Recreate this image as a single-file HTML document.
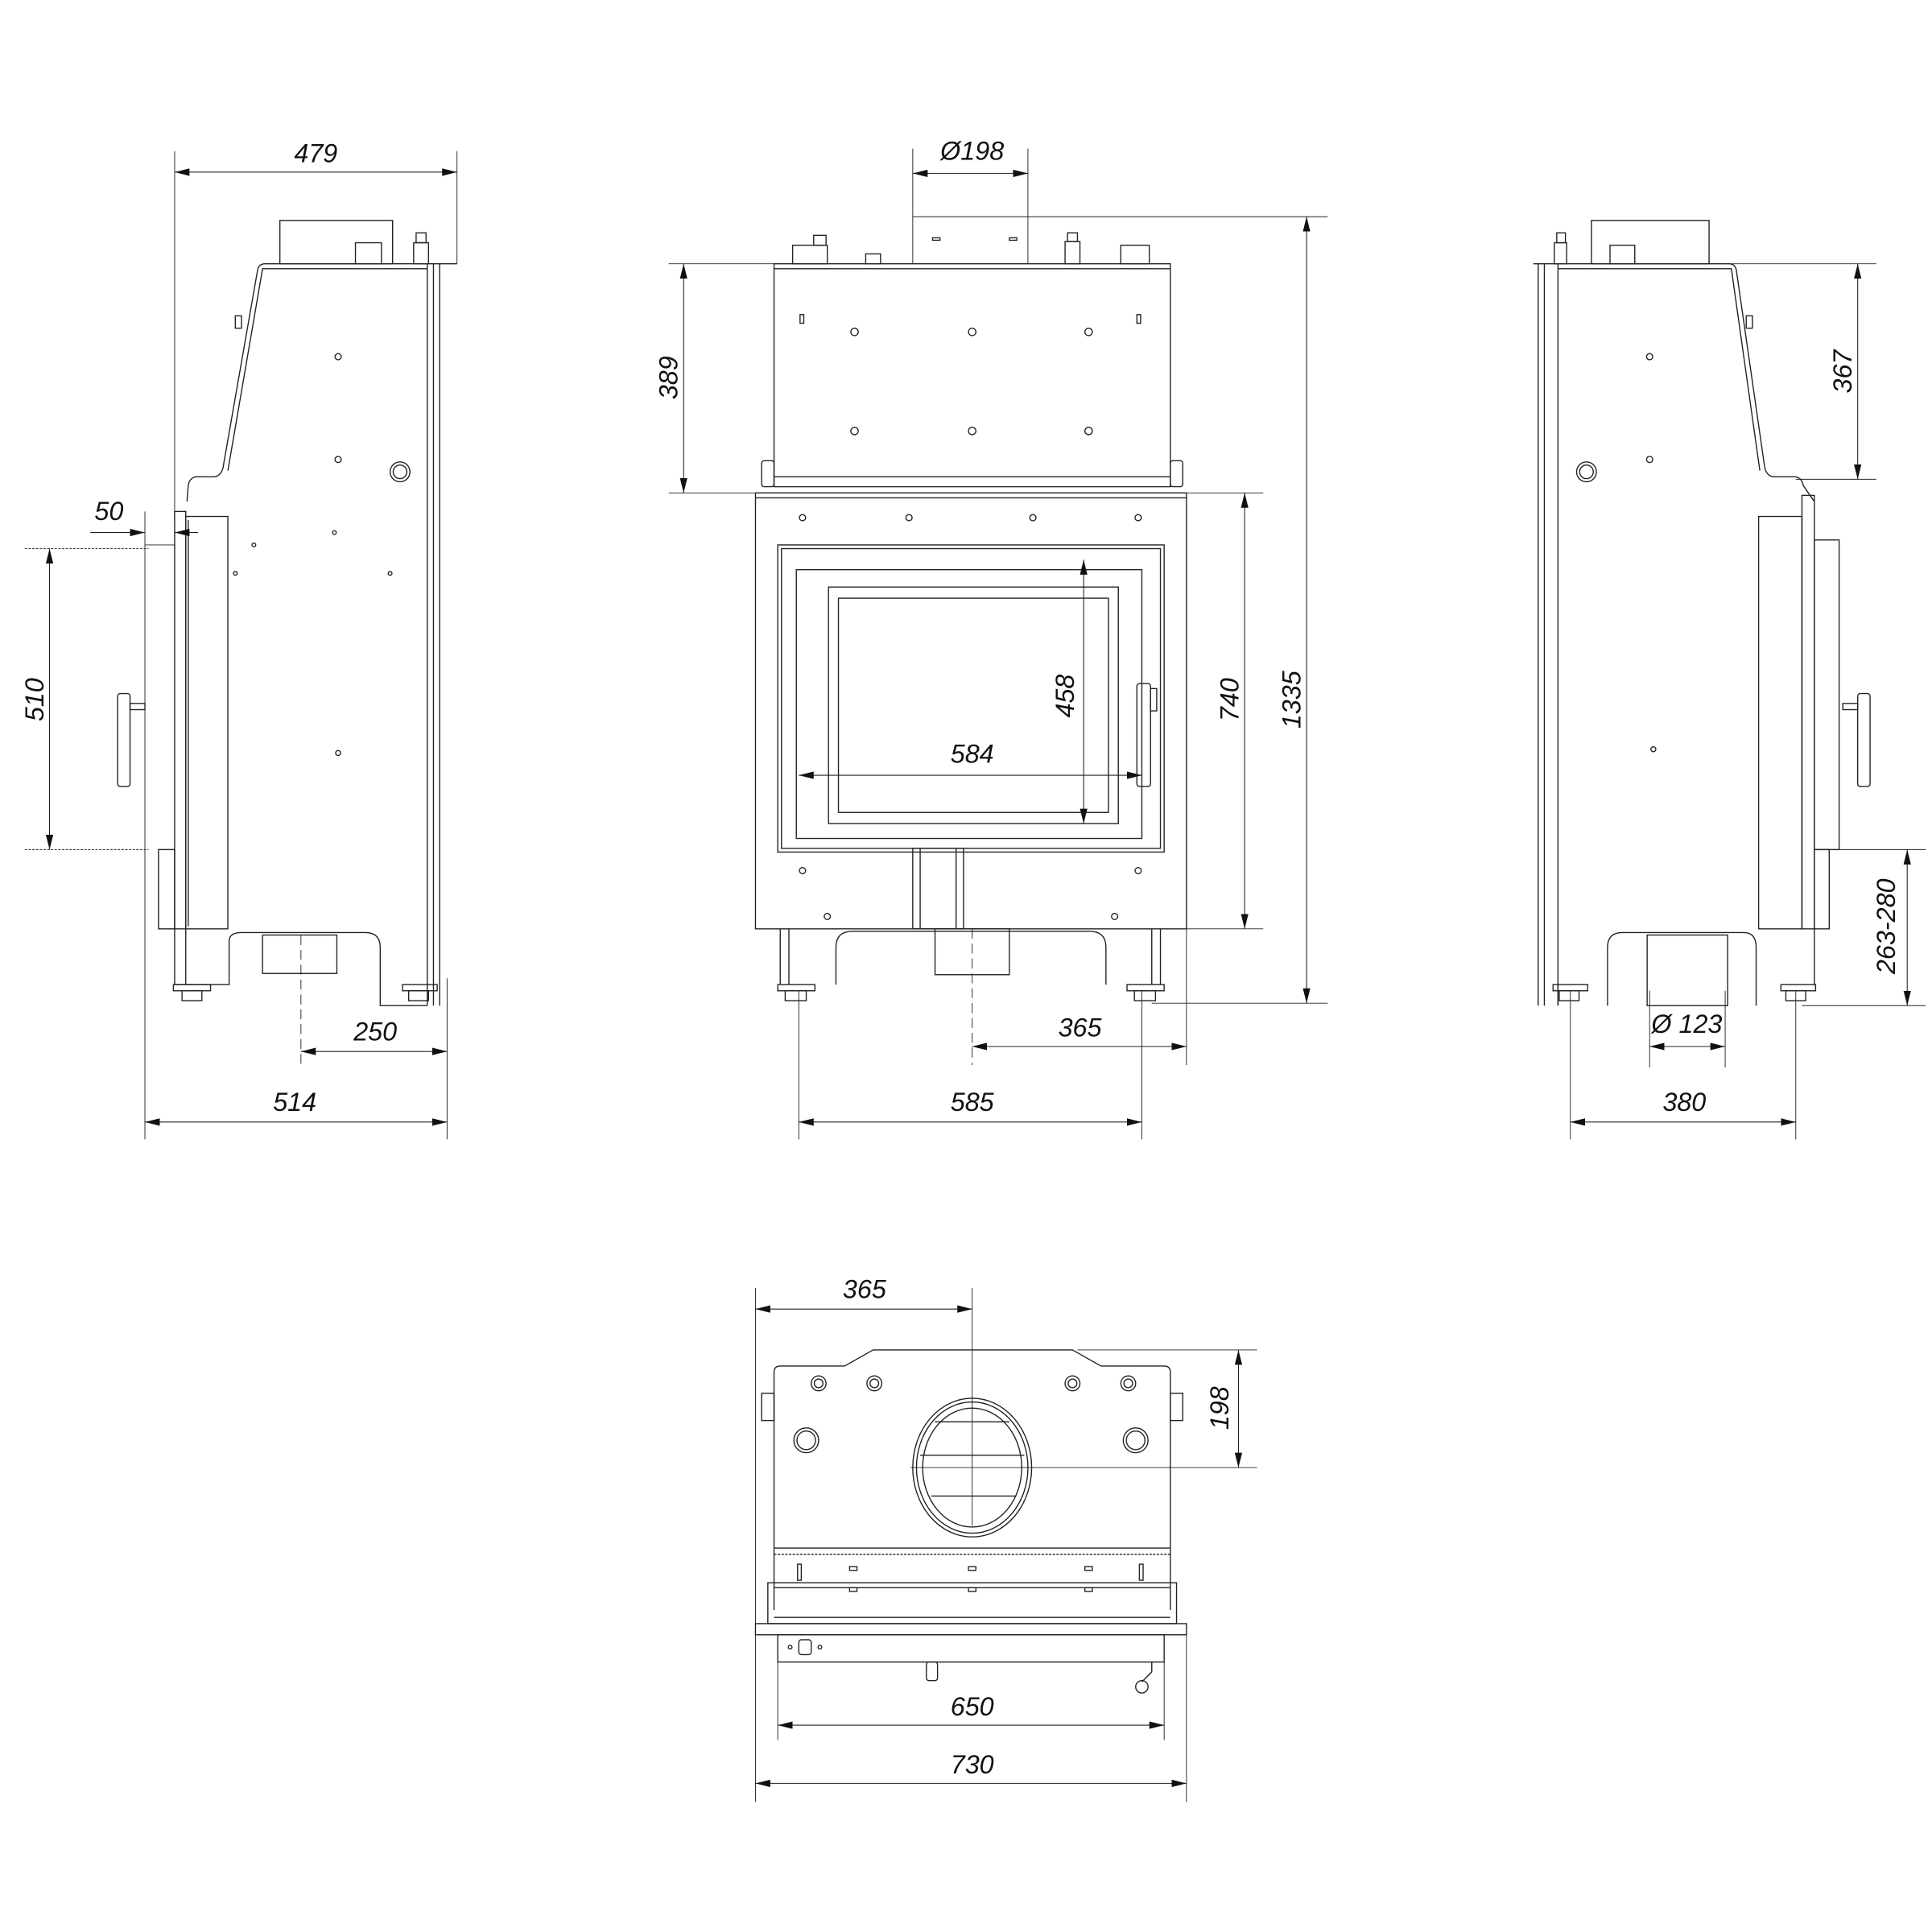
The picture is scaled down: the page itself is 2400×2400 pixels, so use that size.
<!DOCTYPE html>
<html><head><meta charset="utf-8"><style>
html,body{margin:0;padding:0;background:#fff}
svg{display:block}
text{font-family:"Liberation Sans",sans-serif;font-style:italic;font-size:21px;fill:#111}
</style></head><body>
<svg width="2400" height="2400" viewBox="0 0 1560 1560" xmlns="http://www.w3.org/2000/svg">
<defs>
<marker id="a" viewBox="0 0 12 6" refX="12" refY="3" markerWidth="12" markerHeight="6" orient="auto-start-reverse" markerUnits="userSpaceOnUse"><path d="M0,0 L12,3 L0,6z" fill="#111"/></marker>
</defs>
<g fill="none" stroke="#222" stroke-width="0.9">
<!-- ============ LEFT SIDE VIEW ============ -->
<line x1="141" y1="122" x2="141" y2="420" stroke-width="0.6"/>
<line x1="369" y1="122" x2="369" y2="213" stroke-width="0.6"/>
<line x1="141" y1="139" x2="369" y2="139" marker-start="url(#a)" marker-end="url(#a)" stroke-width="0.7"/>
<rect x="226" y="178" width="91" height="35"/>
<rect x="287" y="196" width="21" height="17"/>
<rect x="334" y="196" width="12" height="17"/><rect x="336" y="188" width="8" height="8"/>
<path d="M369 213 L214 213 Q209 213 208 218 L180 378 Q178 385 172 385 L158 385 Q153 386 152 392 L151 405"/>
<path d="M345 217 L212 217 L184 380"/>
<line x1="345" y1="213" x2="345" y2="812"/><line x1="350" y1="213" x2="350" y2="812"/><line x1="355" y1="213" x2="355" y2="812"/>
<rect x="141" y="413" width="9" height="337"/>
<rect x="150" y="417" width="34" height="333"/><line x1="152" y1="420" x2="152" y2="748"/>
<rect x="128" y="686" width="13" height="64"/>
<line x1="117" y1="440" x2="141" y2="440" stroke-width="0.6"/>
<circle cx="273" cy="288" r="2.5"/><circle cx="273" cy="371" r="2.5"/><circle cx="273" cy="608" r="2"/>
<circle cx="323" cy="381" r="8"/><circle cx="323" cy="381" r="5.5"/>
<circle cx="190" cy="463" r="1.5"/><circle cx="315" cy="463" r="1.5"/><circle cx="270" cy="430" r="1.5"/><circle cx="205" cy="440" r="1.5"/>
<rect x="190" y="255" width="5" height="10"/>
<path d="M141 750 L141 795 L185 795 L185 760 Q185 753 195 753 L295 753 Q307 753 307 765 L307 812 L345 812"/>
<path d="M150 750 L150 795"/><rect x="212" y="755" width="60" height="31"/>
<line x1="243" y1="755" x2="243" y2="862" stroke-dasharray="8 4" stroke-width="0.6"/>
<rect x="140" y="795" width="30" height="5"/><rect x="147" y="800" width="16" height="8"/>
<rect x="325" y="795" width="28" height="5"/><rect x="330" y="800" width="16" height="8"/>
<rect x="95" y="560" width="10" height="75" rx="2"/><rect x="105" y="568" width="12" height="5"/>
<line x1="117" y1="413" x2="117" y2="920" stroke-width="0.6"/>
<line x1="361" y1="790" x2="361" y2="920" stroke-width="0.6"/>
<line x1="20" y1="443" x2="120" y2="443" stroke-width="0.6" stroke-dasharray="2 1"/>
<line x1="20" y1="686" x2="120" y2="686" stroke-width="0.6" stroke-dasharray="2 1"/>
<line x1="40" y1="443" x2="40" y2="686" marker-start="url(#a)" marker-end="url(#a)" stroke-width="0.7"/>
<line x1="73" y1="430" x2="117" y2="430" marker-end="url(#a)" stroke-width="0.7"/>
<line x1="160" y1="430" x2="141" y2="430" marker-end="url(#a)" stroke-width="0.7"/>
<line x1="243" y1="849" x2="361" y2="849" marker-start="url(#a)" marker-end="url(#a)" stroke-width="0.7"/>
<line x1="117" y1="906" x2="361" y2="906" marker-start="url(#a)" marker-end="url(#a)" stroke-width="0.7"/>

<!-- ============ FRONT VIEW ============ -->
<line x1="737" y1="120" x2="737" y2="213" stroke-width="0.6"/>
<line x1="830" y1="120" x2="830" y2="213" stroke-width="0.6"/>
<line x1="737" y1="140" x2="830" y2="140" marker-start="url(#a)" marker-end="url(#a)" stroke-width="0.7"/>
<line x1="737" y1="175" x2="1072" y2="175" stroke-width="0.6"/>
<rect x="753" y="192" width="6" height="2"/><rect x="815" y="192" width="6" height="2"/>
<rect x="640" y="198" width="28" height="15"/><rect x="657" y="190" width="10" height="8"/>
<rect x="699" y="205" width="12" height="8"/>
<rect x="860" y="195" width="12" height="18"/><rect x="862" y="188" width="8" height="7"/>
<rect x="905" y="198" width="23" height="15"/>
<rect x="625" y="213" width="320" height="180"/>
<line x1="625" y1="217" x2="945" y2="217"/>
<line x1="625" y1="385" x2="945" y2="385"/>
<rect x="615" y="372" width="10" height="21" rx="2"/><rect x="945" y="372" width="10" height="21" rx="2"/>
<rect x="646" y="254" width="3" height="7"/><rect x="918" y="254" width="3" height="7"/>
<circle cx="690" cy="268" r="3"/><circle cx="785" cy="268" r="3"/><circle cx="879" cy="268" r="3"/>
<circle cx="690" cy="348" r="3"/><circle cx="785" cy="348" r="3"/><circle cx="879" cy="348" r="3"/>
<rect x="610" y="398" width="348" height="352"/>
<line x1="610" y1="402" x2="958" y2="402"/>
<circle cx="648" cy="418" r="2.5"/><circle cx="734" cy="418" r="2.5"/><circle cx="834" cy="418" r="2.5"/><circle cx="919" cy="418" r="2.5"/>
<circle cx="648" cy="703" r="2.5"/><circle cx="919" cy="703" r="2.5"/><circle cx="668" cy="740" r="2.5"/><circle cx="900" cy="740" r="2.5"/>
<rect x="628" y="440" width="312" height="248"/>
<rect x="631" y="443" width="306" height="242"/>
<rect x="643" y="460" width="279" height="217"/>
<rect x="669" y="474" width="234" height="191"/>
<rect x="677" y="483" width="218" height="173"/>
<rect x="918" y="552" width="11" height="83" rx="2"/><rect x="929" y="556" width="5" height="18"/>
<rect x="737" y="685" width="41" height="65"/><line x1="743" y1="685" x2="743" y2="750"/><line x1="772" y1="685" x2="772" y2="750"/>
<path d="M630 750 L630 795 M637 750 L637 795 M675 795 L675 765 Q675 752 688 752 L880 752 Q893 752 893 765 L893 795 M930 750 L930 795 M937 750 L937 795"/>
<rect x="755" y="750" width="60" height="37"/>
<line x1="785" y1="750" x2="785" y2="860" stroke-dasharray="8 4" stroke-width="0.6"/>
<rect x="628" y="795" width="30" height="5"/><rect x="634" y="800" width="17" height="8"/>
<rect x="910" y="795" width="30" height="5"/><rect x="916" y="800" width="17" height="8"/>
<line x1="540" y1="213" x2="625" y2="213" stroke-width="0.6"/>
<line x1="540" y1="398" x2="610" y2="398" stroke-width="0.6"/>
<line x1="958" y1="398" x2="1020" y2="398" stroke-width="0.6"/>
<line x1="958" y1="750" x2="1020" y2="750" stroke-width="0.6"/>
<line x1="930" y1="810" x2="1072" y2="810" stroke-width="0.6"/>
<line x1="958" y1="750" x2="958" y2="860" stroke-width="0.6"/>
<line x1="645" y1="800" x2="645" y2="920" stroke-width="0.6"/>
<line x1="922" y1="800" x2="922" y2="920" stroke-width="0.6"/>
<line x1="552" y1="213" x2="552" y2="398" marker-start="url(#a)" marker-end="url(#a)" stroke-width="0.7"/>
<line x1="1005" y1="398" x2="1005" y2="750" marker-start="url(#a)" marker-end="url(#a)" stroke-width="0.7"/>
<line x1="1055" y1="175" x2="1055" y2="810" marker-start="url(#a)" marker-end="url(#a)" stroke-width="0.7"/>
<line x1="875" y1="452" x2="875" y2="665" marker-start="url(#a)" marker-end="url(#a)" stroke-width="0.7"/>
<line x1="645" y1="626" x2="922" y2="626" marker-start="url(#a)" marker-end="url(#a)" stroke-width="0.7"/>
<line x1="785" y1="845" x2="958" y2="845" marker-start="url(#a)" marker-end="url(#a)" stroke-width="0.7"/>
<line x1="645" y1="906" x2="922" y2="906" marker-start="url(#a)" marker-end="url(#a)" stroke-width="0.7"/>

<!-- ============ RIGHT SIDE VIEW ============ -->
<rect x="1285" y="178" width="95" height="35"/>
<rect x="1300" y="198" width="20" height="15"/>
<rect x="1255" y="196" width="10" height="17"/><rect x="1257" y="188" width="7" height="8"/>
<path d="M1238 213 L1396 213 Q1401 213 1402 218 L1425 378 Q1427 385 1433 385 L1450 385 Q1455 386 1456 392 L1465 405"/>
<path d="M1258 217 L1398 217 L1421 380"/>
<line x1="1242" y1="213" x2="1242" y2="812"/><line x1="1247" y1="213" x2="1247" y2="812"/><line x1="1258" y1="213" x2="1258" y2="812"/>
<rect x="1420" y="417" width="35" height="333"/><rect x="1455" y="400" width="10" height="350"/>
<rect x="1465" y="436" width="20" height="250"/>
<rect x="1465" y="686" width="12" height="64"/>
<circle cx="1332" cy="288" r="2.5"/><circle cx="1332" cy="371" r="2.5"/><circle cx="1335" cy="605" r="2"/>
<circle cx="1281" cy="381" r="8"/><circle cx="1281" cy="381" r="5.5"/>
<rect x="1410" y="255" width="5" height="10"/>
<path d="M1258 812 L1258 795 M1298 812 L1298 765 Q1298 753 1310 753 L1408 753 Q1418 753 1418 765 L1418 812 M1465 750 L1465 795"/>
<rect x="1330" y="755" width="65" height="57"/>
<rect x="1254" y="795" width="28" height="5"/><rect x="1259" y="800" width="16" height="8"/>
<rect x="1438" y="795" width="28" height="5"/><rect x="1442" y="800" width="16" height="8"/>
<rect x="1500" y="560" width="10" height="75" rx="2"/><rect x="1488" y="568" width="12" height="5"/>
<line x1="1387" y1="213" x2="1515" y2="213" stroke-width="0.6"/>
<line x1="1450" y1="387" x2="1515" y2="387" stroke-width="0.6"/>
<line x1="1480" y1="686" x2="1555" y2="686" stroke-width="0.6"/>
<line x1="1455" y1="812" x2="1555" y2="812" stroke-width="0.6"/>
<line x1="1500" y1="213" x2="1500" y2="387" marker-start="url(#a)" marker-end="url(#a)" stroke-width="0.7"/>
<line x1="1540" y1="686" x2="1540" y2="812" marker-start="url(#a)" marker-end="url(#a)" stroke-width="0.7"/>
<line x1="1332" y1="800" x2="1332" y2="862" stroke-width="0.6"/>
<line x1="1393" y1="800" x2="1393" y2="862" stroke-width="0.6"/>
<line x1="1332" y1="845" x2="1393" y2="845" marker-start="url(#a)" marker-end="url(#a)" stroke-width="0.7"/>
<line x1="1268" y1="800" x2="1268" y2="920" stroke-width="0.6"/>
<line x1="1450" y1="800" x2="1450" y2="920" stroke-width="0.6"/>
<line x1="1268" y1="906" x2="1450" y2="906" marker-start="url(#a)" marker-end="url(#a)" stroke-width="0.7"/>

<!-- ============ BOTTOM (TOP) VIEW ============ -->
<line x1="610" y1="1040" x2="610" y2="1455" stroke-width="0.6"/>
<line x1="785" y1="1040" x2="785" y2="1232" stroke-width="0.6"/>
<line x1="610" y1="1057" x2="785" y2="1057" marker-start="url(#a)" marker-end="url(#a)" stroke-width="0.7"/>
<line x1="870" y1="1090" x2="1015" y2="1090" stroke-width="0.6"/>
<line x1="735" y1="1185" x2="1015" y2="1185" stroke-width="0.6"/>
<line x1="1000" y1="1090" x2="1000" y2="1185" marker-start="url(#a)" marker-end="url(#a)" stroke-width="0.7"/>
<path d="M625 1300 L625 1108 Q625 1103 630 1103 L682 1103 L705 1090 L866 1090 L889 1103 L940 1103 Q945 1103 945 1108 L945 1300"/>
<rect x="615" y="1125" width="10" height="22"/><rect x="945" y="1125" width="10" height="22"/>
<circle cx="661" cy="1117" r="6"/><circle cx="661" cy="1117" r="3.5"/>
<circle cx="706" cy="1117" r="6"/><circle cx="706" cy="1117" r="3.5"/>
<circle cx="866" cy="1117" r="6"/><circle cx="866" cy="1117" r="3.5"/>
<circle cx="911" cy="1117" r="6"/><circle cx="911" cy="1117" r="3.5"/>
<circle cx="651" cy="1163" r="10"/><circle cx="651" cy="1163" r="7.5"/>
<circle cx="917" cy="1163" r="10"/><circle cx="917" cy="1163" r="7.5"/>
<ellipse cx="785" cy="1185" rx="48" ry="56"/><ellipse cx="785" cy="1185" rx="45" ry="53"/><ellipse cx="785" cy="1185" rx="40" ry="48"/>
<line x1="755" y1="1148" x2="815" y2="1148"/><line x1="743" y1="1175" x2="827" y2="1175"/><line x1="752" y1="1208" x2="820" y2="1208"/>
<line x1="625" y1="1250" x2="945" y2="1250"/><line x1="625" y1="1255" x2="945" y2="1255" stroke-dasharray="2 1"/>
<rect x="644" y="1263" width="3" height="13"/><rect x="920" y="1263" width="3" height="13"/>
<rect x="686" y="1265" width="6" height="3"/><rect x="782" y="1265" width="6" height="3"/><rect x="876" y="1265" width="6" height="3"/>
<rect x="686" y="1282" width="6" height="3"/><rect x="782" y="1282" width="6" height="3"/><rect x="876" y="1282" width="6" height="3"/>
<rect x="620" y="1278" width="330" height="33"/><line x1="625" y1="1282" x2="945" y2="1282"/><line x1="625" y1="1306" x2="945" y2="1306"/>
<rect x="610" y="1311" width="348" height="9"/>
<rect x="628" y="1320" width="312" height="22"/>
<rect x="645" y="1324" width="10" height="12" rx="2"/>
<circle cx="638" cy="1330" r="1.5"/><circle cx="662" cy="1330" r="1.5"/>
<rect x="748" y="1342" width="9" height="15" rx="2"/>
<path d="M930 1342 L930 1350 L922 1358"/><circle cx="922" cy="1362" r="5"/>
<line x1="628" y1="1342" x2="628" y2="1405" stroke-width="0.6"/>
<line x1="940" y1="1342" x2="940" y2="1405" stroke-width="0.6"/>
<line x1="958" y1="1320" x2="958" y2="1455" stroke-width="0.6"/>
<line x1="628" y1="1393" x2="940" y2="1393" marker-start="url(#a)" marker-end="url(#a)" stroke-width="0.7"/>
<line x1="610" y1="1440" x2="958" y2="1440" marker-start="url(#a)" marker-end="url(#a)" stroke-width="0.7"/>
</g>
<g text-anchor="middle">
<text x="255" y="131">479</text>
<text x="88" y="420">50</text>
<text transform="translate(35,565) rotate(-90)">510</text>
<text x="303" y="840">250</text>
<text x="238" y="897">514</text>
<text x="785" y="129">Ø198</text>
<text transform="translate(547,305) rotate(-90)">389</text>
<text transform="translate(867,562) rotate(-90)">458</text>
<text x="785" y="616">584</text>
<text transform="translate(1000,565) rotate(-90)">740</text>
<text transform="translate(1050,565) rotate(-90)">1335</text>
<text x="872" y="837">365</text>
<text x="785" y="897">585</text>
<text transform="translate(1495,300) rotate(-90)">367</text>
<text transform="translate(1530,748) rotate(-90)">263-280</text>
<text x="1362" y="834">Ø 123</text>
<text x="1360" y="897">380</text>
<text x="698" y="1048">365</text>
<text transform="translate(992,1137) rotate(-90)">198</text>
<text x="785" y="1385">650</text>
<text x="785" y="1432">730</text>
</g>
</svg>
</body></html>
